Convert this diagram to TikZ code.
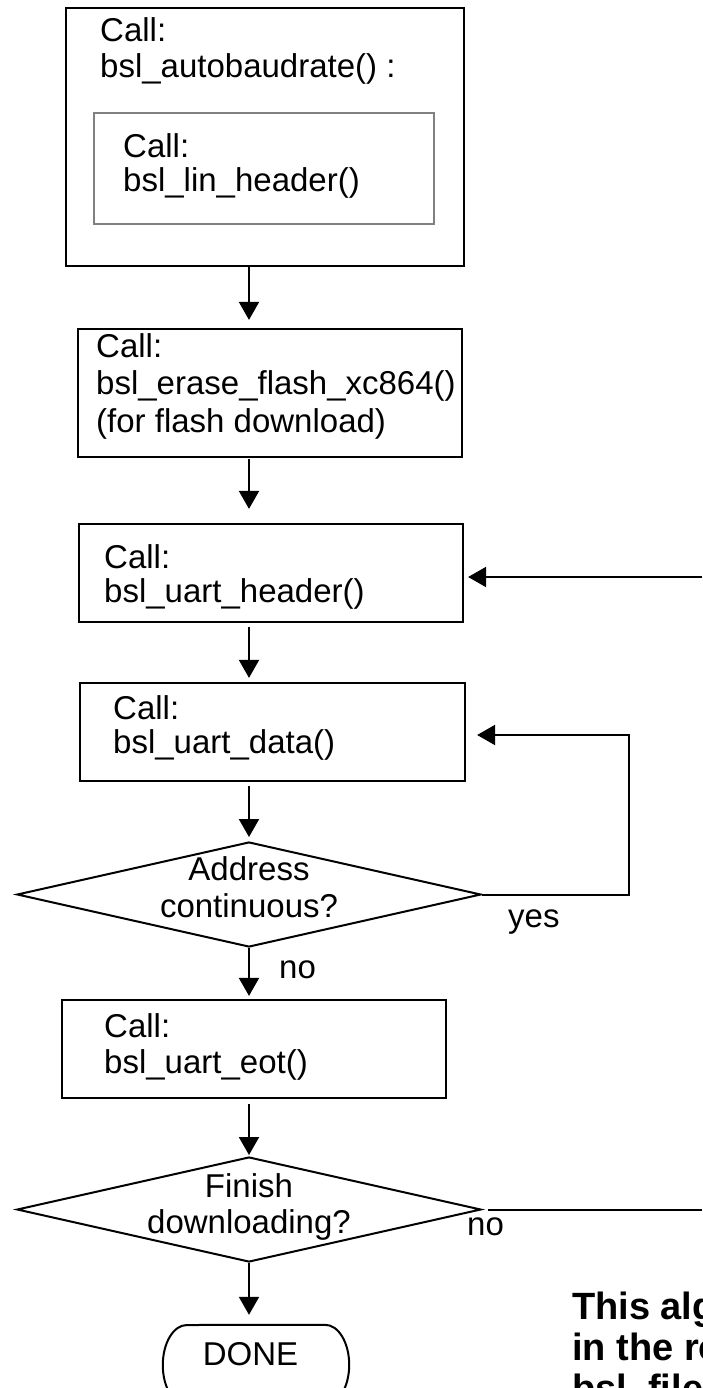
\documentclass[tikz,border=0pt]{standalone}
\usepackage{fontspec}
\setmainfont{Liberation Sans}
\usetikzlibrary{arrows.meta,shapes.geometric,calc}
\tikzset{
  box/.style={draw=black, line width=2.2pt, inner sep=0pt},
  innerbox/.style={draw=black!50, line width=2pt, inner sep=0pt},
  decision/.style={draw=black, shape=diamond, line width=2pt, inner sep=0pt,
                   minimum width=464pt, minimum height=105pt},
  txt/.style={anchor=base west, align=left, inner sep=0pt},
  ctxt/.style={anchor=base, align=center, inner sep=0pt},
  lbl/.style={anchor=base west, inner sep=0pt, font=\fontsize{33}{36}\selectfont},
  arr/.style={line width=2pt, -{Triangle[length=18pt,width=20pt]}},
  ln/.style={line width=2pt},
  notetxt/.style={anchor=base west, align=left, inner sep=0pt,
                  font=\bfseries\fontsize{38}{41}\selectfont}
}
\begin{document}
\begin{tikzpicture}[x=1pt,y=1pt]
\useasboundingbox (0,0) rectangle (702,-1388);
\clip (0,0) rectangle (702,-1388);

% boxes
\node[box, line width=2.7pt, minimum width=398pt, minimum height=258pt] (b1) at (265,-137) {};
\node[innerbox, minimum width=340pt, minimum height=111pt] (b1in) at (264,-168.5) {};
\node[box, minimum width=384pt, minimum height=128pt] (b2) at (270,-393) {};
\node[box, minimum width=384pt, minimum height=98pt] (b3) at (271,-573) {};
\node[box, minimum width=385pt, minimum height=98pt] (b4) at (272.5,-732) {};
\node[decision] (d1) at (249,-894.5) {};
\node[box, minimum width=384pt, minimum height=98pt] (b5) at (254,-1049) {};
\node[decision] (d2) at (249,-1209.5) {};
\node[inner sep=0pt, minimum width=186pt, minimum height=80pt] (done) at (256,-1365) {};
\draw[ln] (done.west)
  arc[start angle=180, end angle=90, x radius=24, y radius=40]
  -- ([xshift=-24pt]done.north east)
  arc[start angle=90, end angle=0, x radius=24, y radius=40]
  arc[start angle=0, end angle=-90, x radius=24, y radius=40]
  -- ([xshift=24pt]done.south west)
  arc[start angle=270, end angle=180, x radius=24, y radius=40] -- cycle;

% texts (base anchor = baseline of the last line)
\node[txt, font=\fontsize{33}{36}\selectfont] (t1) at (100,-78) {Call:\\bsl\_autobaudrate() :};
\node[txt, font=\fontsize{33}{34}\selectfont] (t1in) at (123,-192) {Call:\\bsl\_lin\_header()};
\node[txt, font=\fontsize{33}{37.5}\selectfont] (t2) at (96,-432) {Call:\\bsl\_erase\_flash\_xc864()\\(for flash download)};
\node[txt, font=\fontsize{33}{34}\selectfont] (t3) at (104,-602) {Call:\\bsl\_uart\_header()};
\node[txt, font=\fontsize{33}{34}\selectfont] (t4) at (113,-753) {Call:\\bsl\_uart\_data()};
\node[txt, font=\fontsize{33}{36}\selectfont] (t5) at (104,-1073) {Call:\\bsl\_uart\_eot()};
\node[ctxt, font=\fontsize{33}{37}\selectfont] (d1t) at (249,-917) {Address\\continuous?};
\node[ctxt, font=\fontsize{33}{36}\selectfont] (d2t) at (249,-1233) {Finish\\downloading?};
\node[ctxt, font=\fontsize{33}{36}\selectfont] (donet) at (250.5,-1365) {DONE};
\node[lbl] (yes) at (508,-927) {yes};
\node[lbl] (no1) at (279,-978) {no};
\node[lbl] (no2) at (467,-1235) {no};
\node[notetxt] (note) at (572,-1401) {This algorithm\\in the routine\\bsl\_file};

% connectors
\coordinate (rin) at (702,-577);
\coordinate (rout) at (702,-1209.5);
\coordinate (loopx) at (629,-735);
\draw[arr, shorten >=8pt] (b1.south -| d1.north) -- (b2.north -| d1.north);
\draw[arr, shorten <=1pt, shorten >=14pt] (b2.south -| d1.north) -- (b3.north -| d1.north);
\draw[arr, shorten <=4pt, shorten >=4pt] (b3.south -| d1.north) -- (b4.north -| d1.north);
\draw[arr, shorten <=4pt, shorten >=4pt] (b4.south -| d1.north) -- (d1.north);
\draw[arr, shorten >=3pt] (d1.south) -- (b5.north -| d1.south);
\draw[arr, shorten <=5pt, shorten >=1pt] (b5.south -| d2.north) -- (d2.north);
\draw[arr, shorten >=10pt] (d2.south) -- (d2.south |- done.north);
\draw[arr, shorten >=11pt] (d1.east) -| (loopx) -- (loopx -| b4.east);
\draw[arr, shorten >=4pt] (rin) -- (rin -| b3.east);
\draw[ln, shorten <=6pt] (d2.east) -- (rout);
\end{tikzpicture}
\end{document}
